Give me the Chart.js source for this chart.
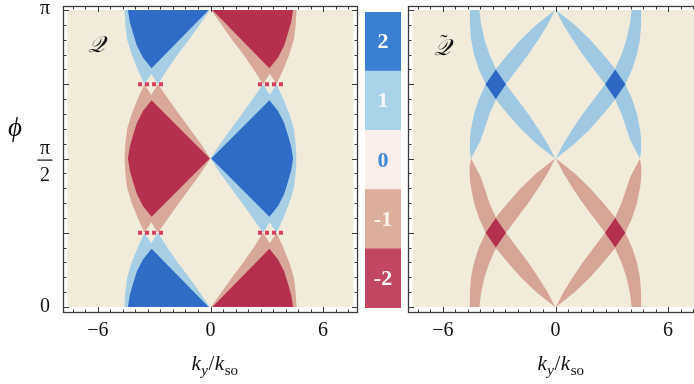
<!DOCTYPE html>
<html>
<head>
<meta charset="utf-8">
<script src="https://cdn.jsdelivr.net/npm/chart.js@4.4.1/dist/chart.umd.min.js"></script>
<style>
  html, body { margin: 0; padding: 0; background: #ffffff; }
  #wrap { position: relative; width: 694px; height: 384px; overflow: hidden; background: #ffffff; }
  canvas { position: absolute; top: 0; }
  #cQ { left: 0; }
  #cQt { left: 360px; }
  #cBar { left: 360px; }
</style>
</head>
<body>
<div id="wrap">
  <canvas id="cQ" width="360" height="384"></canvas>
  <canvas id="cQt" width="360" height="384"></canvas>
  <canvas id="cBar" width="46" height="384"></canvas>
</div>
<script>
// ---------- axes ----------
const xTickValues = [-6, 0, 6];
const xTickLabels = ['\u22126', '0', '6'];
const yTickValues = [0, 0.5, 1];          // φ in units of π
const yTickLabels = ['0', 'π/2', 'π'];

// ---------- colour levels ----------
const levelValues = [-2, -1, 0, 1, 2];
const levelLabels = ['-2', '-1', '0', '1', '2'];
const levelColors = ['#c34763', '#ddad9d', '#f8eeea', '#a8d3e9', '#3a7fd2'];
const levelTextColors = ['#ffffff', '#f8f0ea', '#3f86d8', '#f6f8f6', '#ffffff'];

// ---------- plotted domain (k_y/k_so, φ/π) ----------
const domainK = [-7.62, 7.62];
const domainPhi = [0, 1];

// ---------- Q : regions, as (k, φ/π) vertices ----------
const qFringeTopLeft = [[-4.58,1.0],[-4.54,0.95],[-4.44,0.9],[-4.2,0.85],[-3.88,0.8],[-3.52,0.75],[-3.16,0.785],[-2.8,0.75],[-2.3,0.8],[-1.75,0.85],[-1.15,0.9],[-0.58,0.95],[-0.04,1.0]];
const qCoreTopLeft = [[-4.4,1.0],[-4.3,0.96],[-4.12,0.92],[-3.92,0.88],[-3.6,0.84],[-3.14,0.804],[-0.1,1.0]];
const qFringeMidLeft = [[-3.52,0.75],[-3.88,0.7],[-4.2,0.65],[-4.44,0.6],[-4.54,0.55],[-4.58,0.5],[-4.54,0.45],[-4.44,0.4],[-4.2,0.35],[-3.88,0.3],[-3.52,0.25],[-3.16,0.285],[-2.8,0.25],[-2.25,0.3],[-1.68,0.35],[-1.1,0.4],[-0.52,0.45],[0,0.5],[-0.52,0.55],[-1.1,0.6],[-1.68,0.65],[-2.25,0.7],[-2.8,0.75],[-3.16,0.715]];
const qCoreMidLeft = [[-3.14,0.696],[-3.6,0.66],[-3.92,0.62],[-4.12,0.58],[-4.3,0.54],[-4.4,0.5],[-4.3,0.46],[-4.12,0.42],[-3.92,0.38],[-3.6,0.34],[-3.14,0.304],[-0.04,0.5]];
const qFringeBottomLeft = [[-4.58,0],[-4.54,0.05],[-4.44,0.1],[-4.2,0.15],[-3.88,0.2],[-3.52,0.25],[-3.16,0.215],[-2.8,0.25],[-2.3,0.2],[-1.75,0.15],[-1.15,0.1],[-0.58,0.05],[-0.04,0]];
const qCoreBottomLeft = [[-4.4,0],[-4.3,0.04],[-4.12,0.08],[-3.92,0.12],[-3.6,0.16],[-3.14,0.196],[-0.1,0]];

const qFringeTopRight = [[4.58,1.0],[4.54,0.95],[4.44,0.9],[4.2,0.85],[3.88,0.8],[3.52,0.75],[3.16,0.785],[2.8,0.75],[2.3,0.8],[1.75,0.85],[1.15,0.9],[0.58,0.95],[0.04,1.0]];
const qCoreTopRight = [[4.4,1.0],[4.3,0.96],[4.12,0.92],[3.92,0.88],[3.6,0.84],[3.14,0.804],[0.1,1.0]];
const qFringeMidRight = [[3.52,0.75],[3.88,0.7],[4.2,0.65],[4.44,0.6],[4.54,0.55],[4.58,0.5],[4.54,0.45],[4.44,0.4],[4.2,0.35],[3.88,0.3],[3.52,0.25],[3.16,0.285],[2.8,0.25],[2.25,0.3],[1.68,0.35],[1.1,0.4],[0.52,0.45],[0,0.5],[0.52,0.55],[1.1,0.6],[1.68,0.65],[2.25,0.7],[2.8,0.75],[3.16,0.715]];
const qCoreMidRight = [[3.14,0.696],[3.6,0.66],[3.92,0.62],[4.12,0.58],[4.3,0.54],[4.4,0.5],[4.3,0.46],[4.12,0.42],[3.92,0.38],[3.6,0.34],[3.14,0.304],[0.04,0.5]];
const qFringeBottomRight = [[4.58,0],[4.54,0.05],[4.44,0.1],[4.2,0.15],[3.88,0.2],[3.52,0.25],[3.16,0.215],[2.8,0.25],[2.3,0.2],[1.75,0.15],[1.15,0.1],[0.58,0.05],[0.04,0]];
const qCoreBottomRight = [[4.4,0],[4.3,0.04],[4.12,0.08],[3.92,0.12],[3.6,0.16],[3.14,0.196],[0.1,0]];

// gap markers at φ = π/4 and 3π/4
const qGapTopLeft = [[-3.86,0.75],[-2.53,0.75]];
const qGapTopRight = [[2.53,0.75],[3.86,0.75]];
const qGapBottomLeft = [[-3.86,0.25],[-2.53,0.25]];
const qGapBottomRight = [[2.53,0.25],[3.86,0.25]];

// ---------- Q̃ : bands and their crossings ----------
const tBandDownTopLeft = [[-4.56,1.0],[-4.56,0.95],[-4.5,0.9],[-4.34,0.85],[-4.08,0.8],[-3.72,0.75],[-3.2,0.7],[-2.55,0.65],[-1.85,0.6],[-1.02,0.55],[-0.02,0.5],[-0.42,0.55],[-0.92,0.6],[-1.45,0.65],[-2.05,0.7],[-2.64,0.75],[-3.16,0.8],[-3.52,0.85],[-3.78,0.9],[-3.96,0.95],[-4.06,1.0]];
const tBandUpTopLeft = [[-4.5,0.5],[-4.58,0.53],[-4.56,0.57],[-4.5,0.6],[-4.34,0.65],[-4.08,0.7],[-3.72,0.75],[-3.2,0.8],[-2.55,0.85],[-1.85,0.9],[-1.02,0.95],[-0.02,1.0],[-0.42,0.95],[-0.92,0.9],[-1.45,0.85],[-2.05,0.8],[-2.64,0.75],[-3.16,0.7],[-3.52,0.65],[-3.78,0.6],[-4.0,0.56],[-4.25,0.53]];
const tCrossTopLeft = [[-3.72,0.75],[-3.18,0.8],[-2.64,0.75],[-3.18,0.7]];

const tBandDownTopRight = [[4.56,1.0],[4.56,0.95],[4.5,0.9],[4.34,0.85],[4.08,0.8],[3.72,0.75],[3.2,0.7],[2.55,0.65],[1.85,0.6],[1.02,0.55],[0.02,0.5],[0.42,0.55],[0.92,0.6],[1.45,0.65],[2.05,0.7],[2.64,0.75],[3.16,0.8],[3.52,0.85],[3.78,0.9],[3.96,0.95],[4.06,1.0]];
const tBandUpTopRight = [[4.5,0.5],[4.58,0.53],[4.56,0.57],[4.5,0.6],[4.34,0.65],[4.08,0.7],[3.72,0.75],[3.2,0.8],[2.55,0.85],[1.85,0.9],[1.02,0.95],[0.02,1.0],[0.42,0.95],[0.92,0.9],[1.45,0.85],[2.05,0.8],[2.64,0.75],[3.16,0.7],[3.52,0.65],[3.78,0.6],[4.0,0.56],[4.25,0.53]];
const tCrossTopRight = [[3.72,0.75],[3.18,0.8],[2.64,0.75],[3.18,0.7]];

const tBandUpBottomLeft = [[-4.56,0],[-4.56,0.05],[-4.5,0.1],[-4.34,0.15],[-4.08,0.2],[-3.72,0.25],[-3.2,0.3],[-2.55,0.35],[-1.85,0.4],[-1.02,0.45],[-0.02,0.5],[-0.42,0.45],[-0.92,0.4],[-1.45,0.35],[-2.05,0.3],[-2.64,0.25],[-3.16,0.2],[-3.52,0.15],[-3.78,0.1],[-3.96,0.05],[-4.06,0]];
const tBandDownBottomLeft = [[-4.5,0.5],[-4.58,0.47],[-4.56,0.43],[-4.5,0.4],[-4.34,0.35],[-4.08,0.3],[-3.72,0.25],[-3.2,0.2],[-2.55,0.15],[-1.85,0.1],[-1.02,0.05],[-0.02,0],[-0.42,0.05],[-0.92,0.1],[-1.45,0.15],[-2.05,0.2],[-2.64,0.25],[-3.16,0.3],[-3.52,0.35],[-3.78,0.4],[-4.0,0.44],[-4.25,0.47]];
const tCrossBottomLeft = [[-3.72,0.25],[-3.18,0.3],[-2.64,0.25],[-3.18,0.2]];

const tBandUpBottomRight = [[4.56,0],[4.56,0.05],[4.5,0.1],[4.34,0.15],[4.08,0.2],[3.72,0.25],[3.2,0.3],[2.55,0.35],[1.85,0.4],[1.02,0.45],[0.02,0.5],[0.42,0.45],[0.92,0.4],[1.45,0.35],[2.05,0.3],[2.64,0.25],[3.16,0.2],[3.52,0.15],[3.78,0.1],[3.96,0.05],[4.06,0]];
const tBandDownBottomRight = [[4.5,0.5],[4.58,0.47],[4.56,0.43],[4.5,0.4],[4.34,0.35],[4.08,0.3],[3.72,0.25],[3.2,0.2],[2.55,0.15],[1.85,0.1],[1.02,0.05],[0.02,0],[0.42,0.05],[0.92,0.1],[1.45,0.15],[2.05,0.2],[2.64,0.25],[3.16,0.3],[3.52,0.35],[3.78,0.4],[4.0,0.44],[4.25,0.47]];
const tCrossBottomRight = [[3.72,0.25],[3.18,0.3],[2.64,0.25],[3.18,0.2]];

// ---------- styling ----------
const SERIF = "'Liberation Serif','DejaVu Serif',serif";
const BEIGE = '#f1ebdb';
const Q_COL = { lb: '#a6cfe6', db: '#2f6cc6', lr: '#d9a89b', dr: '#b4304e' };
const T_COL = { lb: '#9fc9e2', db: '#2b67c3', lr: '#d7a598', dr: '#b3304f' };
const GAP_COL = '#d23f5f';

function region(points, color, order) {
  return {
    data: points.map(p => ({ x: p[0], y: p[1] })),
    fill: 'shape', backgroundColor: color, borderColor: color,
    borderWidth: 0, pointRadius: 0, tension: 0, order
  };
}
function domainRegion() {
  const pts = [[domainK[0], domainPhi[0]], [domainK[1], domainPhi[0]], [domainK[1], domainPhi[1]], [domainK[0], domainPhi[1]]];
  return region(pts, BEIGE, 100);
}
function gapLine(points) {
  return {
    data: points.map(p => ({ x: p[0], y: p[1] })),
    fill: false, borderColor: GAP_COL, borderWidth: 4, borderDash: [4, 3],
    borderCapStyle: 'butt', pointRadius: 0, tension: 0, order: 5
  };
}

function drawAxisTitle(ctx, cx, baseY) {
  const parts = [
    { t: 'k', f: 'italic 21px ' + SERIF, dy: 0 },
    { t: 'y', f: 'italic 15px ' + SERIF, dy: 5 },
    { t: '/', f: '21px ' + SERIF, dy: 0 },
    { t: 'k', f: 'italic 21px ' + SERIF, dy: 0 },
    { t: 'so', f: '15px ' + SERIF, dy: 5 }
  ];
  let w = 0;
  parts.forEach(p => { ctx.font = p.f; p.w = ctx.measureText(p.t).width; w += p.w + 0.5; });
  let x = cx - w / 2;
  ctx.textAlign = 'left';
  ctx.textBaseline = 'alphabetic';
  parts.forEach(p => { ctx.font = p.f; ctx.fillText(p.t, x, baseY + p.dy); x += p.w + 0.5; });
}

function framePlugin(opts) {
  return {
    id: 'frame' + opts.name,
    afterDraw(chart) {
      const { ctx, chartArea: a, scales: { x, y } } = chart;
      ctx.save();
      ctx.strokeStyle = '#3a3a3a';
      ctx.lineWidth = 1.3;
      ctx.strokeRect(a.left + 0.5, a.top + 0.5, a.right - a.left - 1, a.bottom - a.top - 1);
      ctx.lineWidth = 1;
      ctx.beginPath();
      for (let i = 0; i <= 20; i++) {
        const v = i / 20;
        const len = (i % 5 === 0) ? 6 : 3.5;
        const py = Math.round(y.getPixelForValue(v)) + 0.5;
        ctx.moveTo(a.left, py); ctx.lineTo(a.left + len, py);
        ctx.moveTo(a.right, py); ctx.lineTo(a.right - len, py);
      }
      for (let i = -11; i <= 11; i++) {
        const v = i * 2 / 3;
        const len = (i % 9 === 0) ? 6 : 3.5;
        const px = Math.round(x.getPixelForValue(v)) + 0.5;
        ctx.moveTo(px, a.bottom); ctx.lineTo(px, a.bottom - len);
        ctx.moveTo(px, a.top); ctx.lineTo(px, a.top + len);
      }
      ctx.stroke();

      ctx.fillStyle = '#111';
      ctx.font = '20px ' + SERIF;
      ctx.textAlign = 'center';
      ctx.textBaseline = 'middle';
      xTickValues.forEach((v, i) => ctx.fillText(xTickLabels[i], x.getPixelForValue(v), a.bottom + 18));

      if (opts.yLabels) {
        yTickValues.forEach((v, i) => {
          const py = y.getPixelForValue(v);
          const lbl = yTickLabels[i];
          const cx = a.left - 18;
          if (lbl.includes('/')) {
            const [num, den] = lbl.split('/');
            ctx.fillText(num, cx, py - 10);
            ctx.fillText(den, cx, py + 17);
            ctx.fillRect(cx - 7.5, py + 1, 15, 1.2);
          } else {
            ctx.fillText(lbl, cx, py - (v === 1 ? 1 : 0));
          }
        });
        ctx.font = 'italic 27px ' + SERIF;
        ctx.fillText('\u03d5', 15, 129);
      }

      drawAxisTitle(ctx, opts.titleX, 370);

      ctx.font = 'italic 23px ' + SERIF;
      ctx.textAlign = 'center';
      ctx.textBaseline = 'middle';
      ctx.fillStyle = '#111';
      ctx.fillText(opts.tag, opts.tagX, opts.tagY);
      if (opts.tilde) {
        ctx.font = '22px ' + SERIF;
        ctx.fillText('\u02dc', opts.tagX + 2, opts.tagY - 6);
      }
      ctx.restore();
    }
  };
}

function panelOptions(padLeft, padRight) {
  return {
    responsive: false, animation: false, devicePixelRatio: 1,
    layout: { padding: { left: padLeft, right: padRight, top: 6, bottom: 71 } },
    plugins: { legend: { display: false }, tooltip: { enabled: false } },
    scales: {
      x: { type: 'linear', display: false, min: -7.86, max: 7.86 },
      y: { type: 'linear', display: false, min: -0.0202, max: 1.0135 }
    }
  };
}

// Q panel
new Chart(document.getElementById('cQ'), {
  type: 'line',
  data: {
    datasets: [
      domainRegion(),
      region(qFringeTopLeft, Q_COL.lb, 50), region(qFringeMidLeft, Q_COL.lr, 50), region(qFringeBottomLeft, Q_COL.lb, 50),
      region(qFringeTopRight, Q_COL.lr, 50), region(qFringeMidRight, Q_COL.lb, 50), region(qFringeBottomRight, Q_COL.lr, 50),
      region(qCoreTopLeft, Q_COL.db, 40), region(qCoreMidLeft, Q_COL.dr, 40), region(qCoreBottomLeft, Q_COL.db, 40),
      region(qCoreTopRight, Q_COL.dr, 40), region(qCoreMidRight, Q_COL.db, 40), region(qCoreBottomRight, Q_COL.dr, 40),
      gapLine(qGapTopLeft), gapLine(qGapTopRight), gapLine(qGapBottomLeft), gapLine(qGapBottomRight)
    ]
  },
  options: panelOptions(63, 2),
  plugins: [framePlugin({ name: 'Q', yLabels: true, titleX: 215, tag: '\u{1D4AC}', tagX: 96, tagY: 46, tilde: false })]
});

// Q̃ panel
new Chart(document.getElementById('cQt'), {
  type: 'line',
  data: {
    datasets: [
      domainRegion(),
      region(tBandDownTopLeft, T_COL.lb, 50), region(tBandUpTopLeft, T_COL.lb, 50),
      region(tBandDownTopRight, T_COL.lb, 50), region(tBandUpTopRight, T_COL.lb, 50),
      region(tBandUpBottomLeft, T_COL.lr, 50), region(tBandDownBottomLeft, T_COL.lr, 50),
      region(tBandUpBottomRight, T_COL.lr, 50), region(tBandDownBottomRight, T_COL.lr, 50),
      region(tCrossTopLeft, T_COL.db, 40), region(tCrossTopRight, T_COL.db, 40),
      region(tCrossBottomLeft, T_COL.dr, 40), region(tCrossBottomRight, T_COL.dr, 40)
    ]
  },
  options: panelOptions(48, 17),
  plugins: [framePlugin({ name: 'Qt', yLabels: false, titleX: 201, tag: '\u{1D4AC}', tagX: 82, tagY: 49, tilde: true })]
});

// colour key
new Chart(document.getElementById('cBar'), {
  type: 'bar',
  data: {
    labels: [''],
    datasets: levelValues.map((v, i) => ({
      label: levelLabels[i], data: [1], backgroundColor: levelColors[i],
      borderWidth: 0, barPercentage: 1, categoryPercentage: 1
    }))
  },
  options: {
    responsive: false, animation: false, devicePixelRatio: 1,
    layout: { padding: { left: 5, right: 5, top: 12, bottom: 76 } },
    plugins: { legend: { display: false }, tooltip: { enabled: false } },
    scales: {
      x: { display: false, stacked: true },
      y: { display: false, stacked: true, min: 0, max: levelValues.length }
    }
  },
  plugins: [{
    id: 'levelText',
    afterDatasetsDraw(chart) {
      const ctx = chart.ctx;
      ctx.save();
      ctx.font = 'bold 22px ' + SERIF;
      ctx.textAlign = 'center';
      ctx.textBaseline = 'middle';
      chart.data.datasets.forEach((d, i) => {
        const c = chart.getDatasetMeta(i).data[0].getCenterPoint();
        ctx.fillStyle = levelTextColors[i];
        ctx.fillText(levelLabels[i], c.x, c.y + 1);
      });
      ctx.restore();
    }
  }]
});
</script>
</body>
</html>
